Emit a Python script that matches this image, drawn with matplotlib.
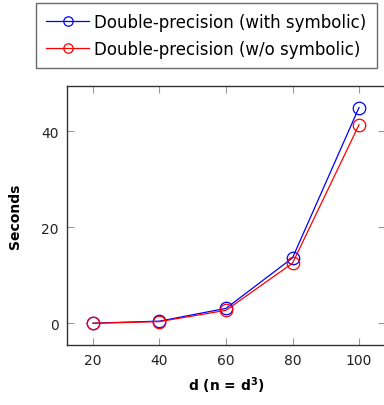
import matplotlib.pyplot as plt
import numpy as np

d_vals = [20, 40, 60, 80, 100]
with_symbolic = [0.02, 0.45, 3.1, 13.6, 44.9]
without_symbolic = [0.0, 0.35, 2.7, 12.5, 41.3]
labels = ['Double-precision (with symbolic)', 'Double-precision (w/o symbolic)']

plt.rcParams['font.family'] = 'DejaVu Sans'
fig = plt.figure(figsize=(3.84, 4.06), dpi=100)
ax = fig.add_axes([0.1745, 0.148, 0.828, 0.638])

l1, = ax.plot(d_vals, with_symbolic, color='blue', lw=0.9, marker='o', ms=9,
              mfc='none', mew=0.9)
l2, = ax.plot(d_vals, without_symbolic, color='red', lw=0.9, marker='o', ms=9,
              mfc='none', mew=0.9)

ax.set_xlim(12.2, 107.8)
ax.set_ylim(-4.5, 49.4)
ax.set_xticks(d_vals)
ax.set_yticks([0, 20, 40])
ax.tick_params(direction='in', length=5, color='#999999', labelsize=10,
               labelcolor='#222222', top=True, right=True, pad=6)
for s in ax.spines.values():
    s.set_color('#333333')
    s.set_linewidth(1)

ax.set_ylabel('Seconds', fontweight='bold', fontsize=10, labelpad=14)
ax.set_xlabel(r'd (n = d$^\mathbf{3}$)', fontweight='bold', fontsize=10, labelpad=5)

fig.legend([l1, l2], labels, loc='upper left', bbox_to_anchor=(0.094, 0.99),
           fontsize=12, frameon=True, fancybox=False, edgecolor='#444444',
           handlelength=2.6, handletextpad=0.3, borderpad=0.6, labelspacing=0.55,
           markerscale=0.75, borderaxespad=0)

fig.savefig('out.png', dpi=100)
